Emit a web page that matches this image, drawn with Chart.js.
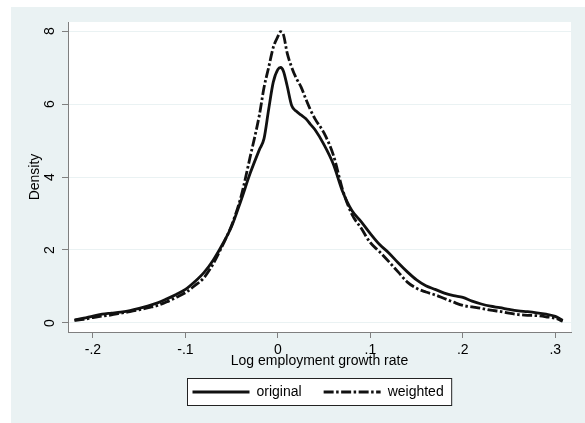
<!DOCTYPE html>
<html>
<head>
<meta charset="utf-8">
<script src="https://cdn.jsdelivr.net/npm/chart.js@4"></script>
<style>
  html, body { margin: 0; padding: 0; background: #fff; }
  canvas { display: block; }
</style>
</head>
<body>
<canvas id="chart" width="585" height="423"></canvas>
<script>
// growth rate grid and kernel density estimates
const growthRate = [-0.22, -0.21, -0.20, -0.19, -0.18, -0.17, -0.16, -0.15, -0.14, -0.13, -0.12, -0.11,
  -0.10, -0.09, -0.08, -0.07, -0.06, -0.05, -0.04, -0.03, -0.02, -0.015, -0.01, -0.005, 0, 0.003, 0.006,
  0.01, 0.015, 0.02, 0.025, 0.03, 0.035, 0.04, 0.05, 0.06, 0.07, 0.08, 0.09, 0.10, 0.11, 0.12, 0.13, 0.14,
  0.15, 0.16, 0.17, 0.18, 0.19, 0.20, 0.21, 0.22, 0.23, 0.24, 0.25, 0.26, 0.27, 0.28, 0.29, 0.30, 0.308];

const densityOriginal = [0.08, 0.13, 0.19, 0.24, 0.27, 0.30, 0.34, 0.40, 0.47, 0.55, 0.66, 0.78,
  0.92, 1.13, 1.38, 1.72, 2.15, 2.65, 3.35, 4.10, 4.75, 5.05, 5.85, 6.60, 6.95, 7.00, 6.90,
  6.50, 5.95, 5.80, 5.70, 5.60, 5.45, 5.30, 4.88, 4.35, 3.60, 3.08, 2.78, 2.45, 2.15, 1.92, 1.65, 1.40,
  1.18, 1.02, 0.92, 0.82, 0.75, 0.70, 0.60, 0.52, 0.46, 0.42, 0.37, 0.33, 0.31, 0.28, 0.24, 0.18, 0.07];

const densityWeighted = [0.07, 0.10, 0.15, 0.19, 0.22, 0.27, 0.31, 0.36, 0.42, 0.48, 0.58, 0.70,
  0.83, 1.02, 1.24, 1.62, 2.12, 2.68, 3.45, 4.55, 5.70, 6.45, 7.00, 7.55, 7.85, 7.98, 7.90,
  7.40, 7.00, 6.70, 6.47, 6.15, 5.85, 5.60, 5.20, 4.60, 3.65, 2.98, 2.60, 2.20, 1.95, 1.68, 1.40, 1.12,
  0.95, 0.85, 0.77, 0.67, 0.57, 0.48, 0.44, 0.40, 0.35, 0.32, 0.27, 0.23, 0.21, 0.20, 0.17, 0.13, 0.05];

const xTicks = [-0.2, -0.1, 0, 0.1, 0.2, 0.3];
const yTicks = [0, 2, 4, 6, 8];
const seriesNames = ['original', 'weighted'];

const BG = '#eaf2f3';
const AXIS = '#7f7f7f';
const FONT = 'Arial, "Liberation Sans", sans-serif';

function stataLabel(v) {
  v = Math.round(v * 10) / 10;
  if (v === 0) return '0';
  return (v < 0 ? '-' : '') + String(Math.abs(v)).replace(/^0/, '');
}

const toPoints = ys => growthRate.map((x, i) => ({ x: x, y: ys[i] }));

// page background + white plot region
const backdrop = {
  id: 'backdrop',
  beforeDraw(chart) {
    const { ctx, chartArea: a } = chart;
    ctx.save();
    ctx.fillStyle = '#fff';
    ctx.fillRect(0, 0, chart.width, chart.height);
    ctx.fillStyle = BG;
    ctx.fillRect(11, 7, chart.width - 11, chart.height - 7);
    ctx.fillStyle = '#fff';
    ctx.fillRect(a.left, a.top, a.right - a.left, a.bottom - a.top);
    ctx.restore();
  }
};

// boxed legend under the axis title, like Stata's
const boxLegend = {
  id: 'boxLegend',
  afterDraw(chart) {
    const { ctx, chartArea: a } = chart;
    const sets = chart.data.datasets;
    ctx.save();
    ctx.font = '14px ' + FONT;
    const sample = 57, gap = 7, between = 22, padL = 5, padR = 8;
    const widths = sets.map(d => ctx.measureText(d.label).width);
    let total = padL + padR + between * (sets.length - 1);
    widths.forEach(w => total += sample + gap + w);
    const top = 378, h = 27;
    const left = Math.round((a.left + a.right) / 2 - total / 2) + 0.5;
    ctx.fillStyle = '#fff';
    ctx.fillRect(left, top + 0.5, total, h);
    ctx.strokeStyle = '#222';
    ctx.lineWidth = 1;
    ctx.strokeRect(left, top + 0.5, total, h);
    const cy = top + h / 2 + 0.5;
    let x = left + padL;
    sets.forEach((d, i) => {
      ctx.save();
      ctx.strokeStyle = d.borderColor;
      ctx.lineWidth = d.borderWidth;
      ctx.setLineDash(d.borderDash || []);
      ctx.beginPath();
      ctx.moveTo(x, cy);
      ctx.lineTo(x + sample, cy);
      ctx.stroke();
      ctx.restore();
      x += sample + gap;
      ctx.fillStyle = '#000';
      ctx.textBaseline = 'middle';
      ctx.fillText(d.label, x, cy);
      x += widths[i] + between;
    });
    ctx.restore();
  }
};

new Chart(document.getElementById('chart'), {
  type: 'line',
  data: {
    datasets: [
      {
        label: seriesNames[0],
        data: toPoints(densityOriginal),
        borderColor: '#111',
        borderWidth: 2.8,
        pointRadius: 0,
        cubicInterpolationMode: 'monotone',
        fill: false
      },
      {
        label: seriesNames[1],
        data: toPoints(densityWeighted),
        borderColor: '#111',
        borderWidth: 2.8,
        borderDash: [10, 2.5, 2.5, 2.5],
        pointRadius: 0,
        cubicInterpolationMode: 'monotone',
        fill: false
      }
    ]
  },
  options: {
    responsive: false,
    animation: false,
    devicePixelRatio: 1,
    layout: { padding: { left: 11, top: 22, right: 14, bottom: 51 } },
    plugins: { legend: { display: false }, tooltip: { enabled: false } },
    scales: {
      x: {
        type: 'linear',
        min: -0.227,
        max: 0.317,
        afterBuildTicks: s => { s.ticks = xTicks.map(v => ({ value: v })); },
        afterFit: s => { s.height = 40; },
        border: { color: AXIS, width: 1 },
        grid: { drawOnChartArea: false, drawTicks: true, tickLength: 6, tickColor: AXIS },
        ticks: {
          padding: 4, color: '#000', maxRotation: 0, autoSkip: false,
          font: { family: FONT, size: 14 },
          callback: v => stataLabel(v)
        },
        title: {
          display: true, text: 'Log employment growth rate', color: '#000',
          font: { family: FONT, size: 14 }, padding: { top: 0, bottom: 2 }
        }
      },
      y: {
        min: -0.247,
        max: 8.247,
        afterBuildTicks: s => { s.ticks = yTicks.map(v => ({ value: v })); },
        afterFit: s => { s.width = 57; },
        border: { color: AXIS, width: 1 },
        grid: { color: BG, lineWidth: 1, drawTicks: true, tickLength: 6, tickColor: AXIS },
        ticks: {
          padding: 8, color: '#000', minRotation: 90, maxRotation: 90, crossAlign: 'center',
          font: { family: FONT, size: 14 },
          callback: v => String(v)
        },
        title: {
          display: true, text: 'Density', color: '#000',
          font: { family: FONT, size: 14 }, padding: { top: 16, bottom: 0 }
        }
      }
    }
  },
  plugins: [backdrop, boxLegend]
});
</script>
</body>
</html>
